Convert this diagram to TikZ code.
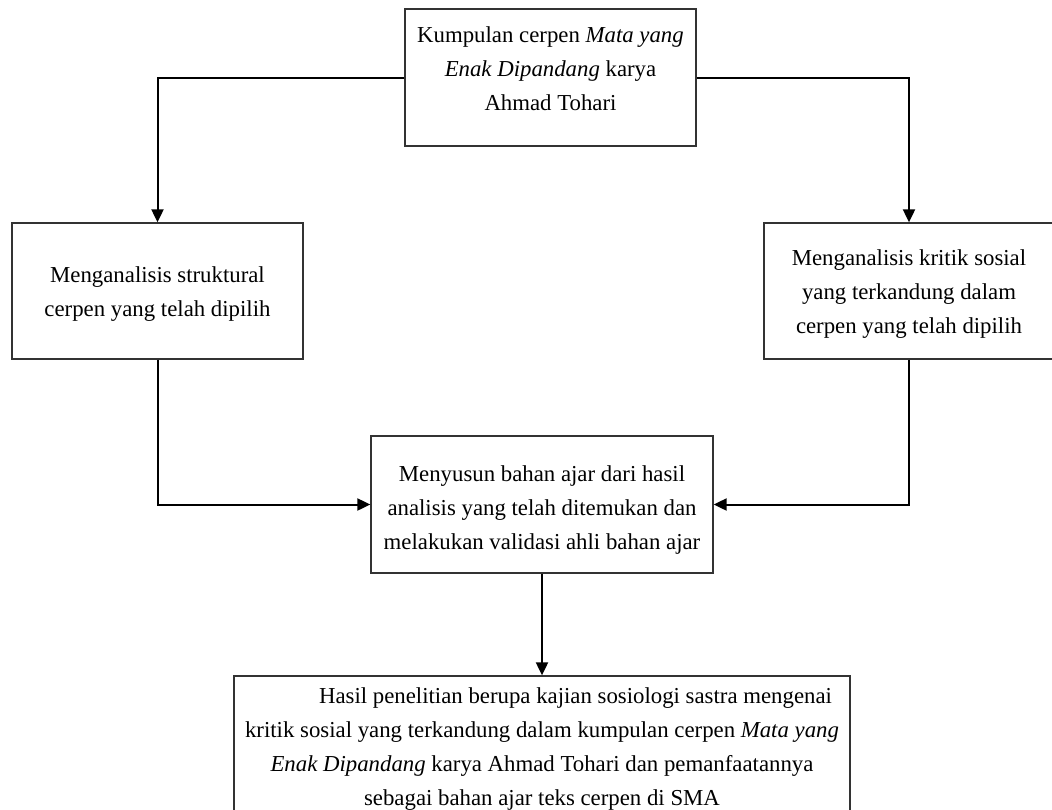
\documentclass[tikz,border=0pt]{standalone}
\usepackage{fontspec}
\setmainfont{Liberation Serif}
\usetikzlibrary{arrows.meta}
\begin{document}
\begin{tikzpicture}[x=1pt,y=-1pt,
  box/.style={draw=black!80, line width=1.3pt, fill=none, inner sep=0pt, minimum width=#1},
  txt/.style={align=center, inner sep=0pt, font=\fontsize{22.8}{34}\selectfont},
  conn/.style={line width=2pt, -{Triangle[length=13pt,width=12pt]}}]
\useasboundingbox (0,0) rectangle (1052,809);
\fill[white] (0,0) rectangle (1052,809);
% boxes
\node[box=291pt, minimum height=137pt] (top) at (550.5,77.5) {};
\node[box=291pt, minimum height=136pt] (left) at (157.5,291) {};
\node[box=290pt, minimum height=136pt] (right) at (909,291) {};
\node[box=342pt, minimum height=137pt] (mid) at (542,504.5) {};
\node[box=616pt, minimum height=154pt] (bot) at (542,753) {};
% texts
\node[txt] (toptext) at (550.5,68.5) {Kumpulan cerpen \textit{Mata yang}\\\textit{Enak Dipandang} karya\\Ahmad Tohari};
\node[txt] (lefttext) at (157.5,294) {Menganalisis struktural\\cerpen yang telah dipilih};
\node[txt] (righttext) at (909,294) {Menganalisis kritik sosial\\yang terkandung dalam\\cerpen yang telah dipilih};
\node[txt] (midtext) at (542,510) {Menyusun bahan ajar dari hasil\\analisis yang telah ditemukan dan\\melakukan validasi ahli bahan ajar};
\node[txt] (bottext) at (542,749) {\hspace*{67pt}Hasil penelitian berupa kajian sosiologi sastra mengenai\\kritik sosial yang terkandung dalam kumpulan cerpen \textit{Mata yang}\\\textit{Enak Dipandang} karya Ahmad Tohari dan pemanfaatannya\\sebagai bahan ajar teks cerpen di SMA};
% connectors
\draw[conn] (top.west) -| (left.north);
\draw[conn] (top.east) -| (right.north);
\draw[conn] (left.south) |- (mid.west);
\draw[conn] (right.south) |- (mid.east);
\draw[conn] (mid.south) -- (bot.north);
\end{tikzpicture}
\end{document}
